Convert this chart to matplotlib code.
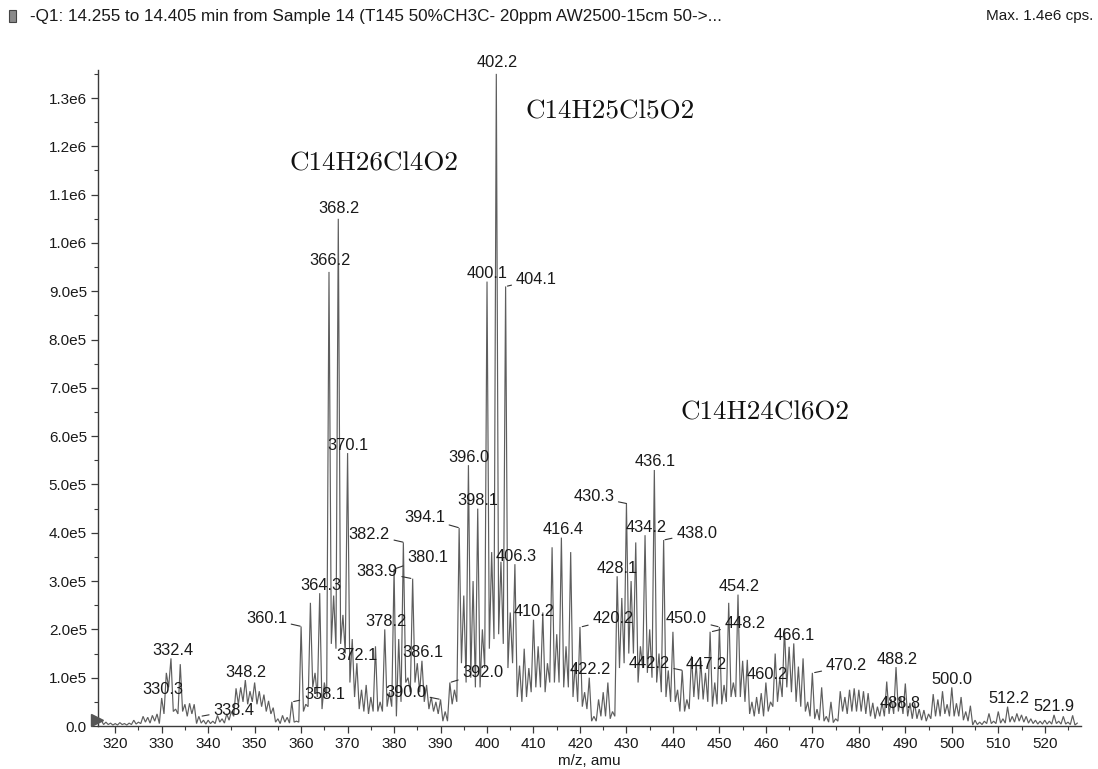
import numpy as np
import matplotlib
matplotlib.use("Agg")
import matplotlib.pyplot as plt
from matplotlib.ticker import MultipleLocator, FuncFormatter
from matplotlib.patches import Rectangle

# ---------------- data (intensities in units of 1e5 cps) ----------------
first_mz = 317
last_mz = 527
# apex heights at each nominal m/z, 317 .. 527
peak_height = (
    [0.12, 0.08, 0.06] +
    [0.05, 0.07, 0.05, 0.06, 0.12, 0.08, 0.20, 0.18, 0.22, 0.25] +   # 320
    [0.58, 1.10, 1.40, 0.35, 1.28, 0.45, 0.47, 0.45, 0.20, 0.12] +   # 330
    [0.12, 0.10, 0.22, 0.15, 0.25, 0.30, 0.78, 0.80, 0.95, 0.72] +   # 340
    [0.90, 0.72, 0.65, 0.52, 0.38, 0.15, 0.22, 0.18, 0.50, 0.10] +   # 350
    [2.06, 0.45, 2.55, 1.10, 2.75, 0.90, 9.40, 2.70, 10.50, 2.30] +  # 360
    [5.65, 1.80, 1.30, 0.75, 0.85, 0.60, 1.65, 0.50, 2.00, 0.70] +   # 370
    [3.25, 1.80, 3.80, 1.00, 3.05, 1.30, 1.35, 0.85, 0.60, 0.50] +   # 380
    [0.55, 0.30, 0.90, 0.75, 4.10, 2.70, 5.40, 3.00, 4.50, 2.00] +   # 390
    [9.20, 3.60, 13.50, 3.40, 9.10, 2.35, 3.35, 1.25, 1.60, 1.20] +  # 400
    [2.20, 1.65, 2.35, 1.30, 3.70, 1.90, 3.90, 1.65, 3.60, 1.30] +   # 410
    [2.05, 0.70, 1.00, 0.20, 0.55, 0.70, 0.90, 0.30, 3.10, 2.65] +   # 420
    [4.60, 3.00, 3.80, 1.65, 3.95, 2.00, 5.30, 1.50, 3.85, 1.15] +   # 430
    [1.95, 0.75, 1.15, 0.55, 1.45, 1.30, 1.35, 1.10, 1.95, 0.90] +   # 440
    [2.05, 0.85, 2.55, 0.90, 2.72, 1.35, 1.37, 0.50, 0.60, 0.68] +   # 450
    [0.90, 0.50, 1.50, 1.00, 2.02, 1.64, 1.71, 1.23, 1.40, 0.50] +   # 460
    [1.10, 0.35, 0.80, 0.20, 0.50, 0.15, 0.72, 0.60, 0.75, 0.78] +   # 470
    [0.75, 0.72, 0.68, 0.48, 0.40, 0.48, 0.92, 0.55, 1.22, 0.60] +   # 480
    [0.88, 0.48, 0.48, 0.35, 0.33, 0.25, 0.66, 0.55, 0.72, 0.45] +   # 490
    [0.80, 0.47, 0.60, 0.30, 0.42, 0.12, 0.08, 0.10, 0.26, 0.10] +   # 500
    [0.30, 0.15, 0.40, 0.20, 0.26, 0.23, 0.20, 0.15, 0.12, 0.10] +   # 510
    [0.12, 0.10, 0.23, 0.10, 0.20, 0.08, 0.22, 0.06]                 # 520
)
# minima between neighbouring peaks, 317.5 .. 526.5
valley_height = (
    [0.03, 0.03, 0.02] +
    [0.02, 0.03, 0.02, 0.03, 0.04, 0.05, 0.08, 0.06, 0.10, 0.05] +
    [0.25, 0.80, 0.30, 0.25, 0.30, 0.20, 0.25, 0.05, 0.06, 0.04] +
    [0.05, 0.05, 0.08, 0.06, 0.12, 0.20, 0.45, 0.50, 0.45, 0.50] +
    [0.45, 0.40, 0.30, 0.25, 0.08, 0.05, 0.08, 0.06, 0.08, 0.08] +
    [0.30, 0.40, 0.80, 0.60, 0.35, 0.60, 1.70, 1.60, 1.70, 1.50] +
    [0.90, 0.60, 0.35, 0.30, 0.25, 0.30, 0.30, 0.30, 0.40, 0.40] +
    [0.20, 0.50, 0.90, 0.70, 0.90, 0.70, 0.50, 0.35, 0.30, 0.25] +
    [0.10, 0.10, 0.45, 0.50, 1.30, 0.90, 1.00, 0.80, 0.80, 1.20] +
    [1.60, 1.80, 1.90, 1.70, 1.20, 1.30, 0.60, 0.50, 0.60, 0.70] +
    [0.80, 0.80, 0.70, 0.90, 0.90, 0.90, 0.80, 0.80, 0.60, 0.50] +
    [0.40, 0.35, 0.10, 0.10, 0.20, 0.20, 0.15, 0.20, 1.20, 1.30] +
    [1.50, 1.50, 0.90, 1.20, 1.10, 1.00, 0.90, 0.70, 0.60, 0.50] +
    [0.50, 0.30, 0.30, 0.35, 0.60, 0.55, 0.55, 0.50, 0.40, 0.45] +
    [0.45, 0.50, 0.60, 0.60, 0.60, 0.50, 0.25, 0.20, 0.25, 0.20] +
    [0.30, 0.40, 0.50, 0.60, 0.80, 0.70, 0.50, 0.40, 0.30, 0.20] +
    [0.15, 0.12, 0.10, 0.08, 0.07, 0.10, 0.30, 0.25, 0.30, 0.30] +
    [0.30, 0.25, 0.20, 0.15, 0.20, 0.20, 0.25, 0.25, 0.30, 0.25] +
    [0.20, 0.15, 0.15, 0.12, 0.10, 0.15, 0.20, 0.20, 0.25, 0.20] +
    [0.20, 0.20, 0.12, 0.10, 0.02, 0.03, 0.03, 0.05, 0.05, 0.05] +
    [0.06, 0.06, 0.08, 0.08, 0.10, 0.08, 0.06, 0.05, 0.04, 0.04] +
    [0.04, 0.04, 0.05, 0.04, 0.04, 0.03, 0.02]
)

# peak labels: (text, m/z)
peak_labels = ["330.3", "332.4", "338.4", "348.2", "358.1", "360.1", "364.3",
               "366.2", "368.2", "370.1", "372.1", "378.2", "380.1", "382.2",
               "383.9", "386.1", "390.0", "392.0", "394.1", "396.0", "398.1",
               "400.1", "402.2", "404.1", "406.3", "410.2", "416.4", "420.2",
               "422.2", "428.1", "430.3", "434.2", "436.1", "438.0", "442.2",
               "447.2", "448.2", "450.0", "454.2", "460.2", "466.1", "470.2",
               "488.2", "488.8", "500.0", "512.2", "521.9"]

formulas = ["C14H26Cl4O2", "C14H25Cl5O2", "C14H24Cl6O2"]

header_text = "-Q1: 14.255 to 14.405 min from Sample 14 (T145 50%CH3C- 20ppm AW2500-15cm 50->..."
max_text = "Max. 1.4e6 cps."
x_label = "m/z, amu"

# ---------------- layout / style ----------------
SCALE = 1e5
W, H = 1098, 769
LINE_COLOR = "#5e5e5e"
TEXT_COLOR = "#1a1a1a"
AX_COLOR = "#3a3a3a"
SANS = ["Liberation Sans", "DejaVu Sans"]

# label offsets in pixels from the peak apex (dx, dy); leader lines where dx != 0
label_offsets = {
    "338.4": (33, 6), "358.1": (32, 7), "360.1": (-35, 8), "380.1": (33, 12),
    "382.2": (-35, 8), "383.9": (-35, 7), "390.0": (-35, 7), "392.0": (33, 10),
    "394.1": (-35, 10), "404.1": (30, 7), "420.2": (32, 8), "430.3": (-34, 7),
    "438.0": (33, 7), "442.2": (-34, 7), "448.2": (34, 8), "450.0": (-33, 8),
    "470.2": (33, 7), "488.8": (0, -6), "402.2": (0, 11), "366.2": (0, 11),
    "368.2": (0, 10),
}
formula_pos = {  # (m/z, intensity 1e5) centres
    "C14H26Cl4O2": (375.6, 11.65),
    "C14H25Cl5O2": (426.5, 12.72),
    "C14H24Cl6O2": (459.9, 6.48),
}

# ---------------- build profile ----------------
mz = np.arange(first_mz, last_mz + 1)
assert len(peak_height) == len(mz), len(peak_height)
assert len(valley_height) == len(mz) - 1, len(valley_height)
px, py = [], []
for i, m in enumerate(mz):
    px.append(m)
    py.append(peak_height[i])
    if i < len(valley_height):
        px.append(m + 0.5)
        py.append(valley_height[i])
px = np.array(px, dtype=float)
py = np.array(py) * SCALE

fig = plt.figure(figsize=(W / 100, H / 100), dpi=100)
ax_left, ax_right, ax_bottom, ax_top = 98, 1081, 726, 70
ax = fig.add_axes([ax_left / W, (H - ax_bottom) / H,
                   (ax_right - ax_left) / W, (ax_bottom - ax_top) / H])

ax.plot(px, py, color=LINE_COLOR, lw=0.85, solid_joinstyle="miter", zorder=2)
ax.set_xlim(316.3, 527.8)
ax.set_ylim(0, 13.58 * SCALE)

for s in ("top", "right"):
    ax.spines[s].set_visible(False)
for s in ("left", "bottom"):
    ax.spines[s].set_color(AX_COLOR)
    ax.spines[s].set_linewidth(1.0)

ax.xaxis.set_major_locator(MultipleLocator(10))
ax.xaxis.set_minor_locator(MultipleLocator(5))
ax.yaxis.set_major_locator(MultipleLocator(1e5))
ax.yaxis.set_minor_locator(MultipleLocator(0.5e5))


def yfmt(v, pos):
    if v <= 0:
        return "0.0"
    e = int(np.floor(np.log10(v) + 1e-9))
    return f"{v / 10 ** e:.1f}e{e}"


ax.yaxis.set_major_formatter(FuncFormatter(yfmt))
ax.tick_params(which="major", direction="out", length=5, width=0.9,
               color=AX_COLOR, labelsize=11, labelcolor=TEXT_COLOR, pad=3)
ax.tick_params(which="minor", direction="out", length=3, width=0.8, color=AX_COLOR)
for lab in ax.get_xticklabels() + ax.get_yticklabels():
    lab.set_family(SANS)
ax.set_xlabel(x_label, fontsize=11, family=SANS, color=TEXT_COLOR, labelpad=2)

# baseline marker triangle
ax.plot([-0.0013], [0.0084], marker=">", markersize=9, color="#555555",
        transform=ax.transAxes, clip_on=False, zorder=3)

# peak labels
for lab in peak_labels:
    m = float(lab)
    idx = int(round(m)) - first_mz
    h = peak_height[idx] * SCALE
    dx, dy = label_offsets.get(lab, (0, 8))
    kw = dict(xy=(m, h), xytext=(dx, dy), textcoords="offset pixels",
              ha="center", va="center", fontsize=11.8, family=SANS,
              color=TEXT_COLOR, zorder=4, annotation_clip=False)
    if dx != 0:
        kw["arrowprops"] = dict(arrowstyle="-", color="#333333", lw=0.8,
                                shrinkA=1, shrinkB=1)
    ax.annotate(lab, **kw)

for f in formulas:
    x, y = formula_pos[f]
    ax.text(x, y * SCALE, f, fontsize=19.5, family=["cmr10", "DejaVu Serif"],
            ha="center", va="center", color="#111111")

# header
fig.patches.append(Rectangle((9 / W, (H - 22) / H), 7 / W, 12 / H,
                             transform=fig.transFigure, facecolor="#8a8a8a",
                             edgecolor="#444444", lw=0.8))
fig.text(30 / W, (H - 16) / H, header_text, fontsize=12.3, family=SANS,
         ha="left", va="center", color=TEXT_COLOR)
fig.text(1093 / W, (H - 16) / H, max_text, fontsize=11, family=SANS,
         ha="right", va="center", color=TEXT_COLOR)

fig.savefig("out.png", dpi=100, facecolor="white")
